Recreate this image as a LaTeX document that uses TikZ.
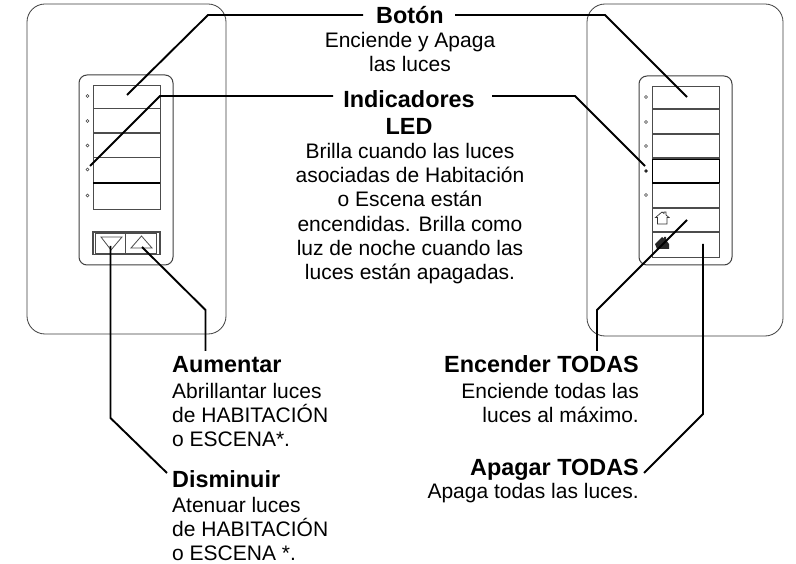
\documentclass[tikz,border=0pt]{standalone}
\usepackage{fontspec}
\setmainfont{Liberation Sans}
\tikzset{
  plate/.style={draw=black!75,line width=0.8pt,rounded corners=18pt,fill=white},
  panel/.style={draw=black!75,line width=1pt,rounded corners=8pt,fill=white},
  sep/.style={draw=black!70,line width=1.5pt},
  thicksep/.style={draw=black,line width=2pt},
  btn/.style={draw=black!70,line width=0.8pt},
  led/.style={circle,draw=black!75,line width=0.6pt,minimum size=3pt,inner sep=0pt},
  leader/.style={draw=black,line width=1.9pt,line join=miter},
  ttl/.style={font=\fontsize{23.4}{27}\selectfont\bfseries,inner sep=0pt},
  txt/.style={font=\fontsize{21}{24.2}\selectfont,inner sep=0pt,align=left},
  ctxt/.style={font=\fontsize{21}{24.2}\selectfont,inner sep=0pt,align=center},
  rtxt/.style={font=\fontsize{21}{24.2}\selectfont,inner sep=0pt,align=right}
}
\begin{document}
\begin{tikzpicture}[x=1pt,y=-1pt,every node/.append style={text=black}]
\useasboundingbox (0,0) rectangle (796,564);
\fill[white] (0,0) rectangle (796,564);
% left plate
\draw[plate] (27,4) rectangle (226,334);
\draw[panel] (79,75) rectangle (173,265);
\draw[btn] (93,85) rectangle (160,209);
\foreach \y in {108.5,133,157.5}{\draw[sep] (93,\y) -- (160,\y);}
\draw[thicksep] (93,183) -- (160,183);
\foreach \y in {96,121,145.5,169.5,195.5}{\node[led] at (87.5,\y) {};}
\draw[btn,line width=1.2pt] (93,232) rectangle (160,254.5);
\draw[btn] (95.5,233.5) rectangle (156.5,253);
\draw[btn,line width=1.2pt] (125.5,233) -- (125.5,254);
\draw[btn] (101,237) -- (122,237) -- (111,250) -- cycle;
\draw[btn] (131,248) -- (152,248) -- (141.5,236) -- cycle;
% right plate
\draw[plate] (587,4) rectangle (783,336);
\draw[panel] (639,76) rectangle (732,265);
\draw[btn] (652,86) rectangle (719,257);
\foreach \y in {109,134,158,208,232}{\draw[sep] (652,\y) -- (719,\y);}
\draw[draw=black,line width=1pt] (652,159.5) rectangle (719,183);
\draw[thicksep] (652,183) -- (719,183);
\foreach \y in {97,122,146,195}{\node[led] at (646,\y) {};}
\node[led,fill=black] at (646,171) {};
\draw[line width=0.7pt,draw=black!80] (655.5,217.5) -- (662,212) -- (664,213.5) -- (664,212) -- (666,212) -- (666,215) -- (669,217.5) -- (667,217.5) -- (667,224) -- (657.5,224) -- (657.5,217.5) -- cycle;
\fill[black!85] (655,244) -- (662,237) -- (664,238.5) -- (664,237) -- (666,237) -- (666,240) -- (669,244) -- (669,249) -- (657,249) -- cycle;
% texts
\node[ttl,anchor=base] (boton) at (410,24) {Botón};
\node[ctxt,anchor=north] (botontxt) at (410,32) {Enciende y Apaga\\las luces};
\node[ttl,align=center,font=\fontsize{23.4}{27}\selectfont\bfseries,anchor=north] (indic) at (409,90) {Indicadores\\LED};
\node[ctxt,anchor=north] (indictxt) at (410,143) {Brilla cuando las luces\\asociadas de Habitación\\o Escena están\\encendidas. Brilla como\\luz de noche cuando las\\luces están apagadas.};
\node[ttl,anchor=base west] (aum) at (172,373) {Aumentar};
\node[txt,anchor=north west] (aumtxt) at (172,383) {Abrillantar luces\\de HABITACIÓN\\o ESCENA*.};
\node[ttl,anchor=base west] (dis) at (172,487) {Disminuir};
\node[txt,anchor=north west] (distxt) at (172,497) {Atenuar luces\\de HABITACIÓN\\o ESCENA *.};
\node[ttl,anchor=base east] (enc) at (639,373) {Encender TODAS};
\node[rtxt,anchor=north east] (enctxt) at (639,383) {Enciende todas las\\luces al máximo.};
\node[ttl,anchor=base east] (apa) at (639,475) {Apagar TODAS};
\node[rtxt,anchor=north east] (apatxt) at (639,483) {Apaga todas las luces.};
% named leader ends
\coordinate (b1) at (127,95);
\coordinate (b2) at (687,97);
\coordinate (bl) at (363,15);
\coordinate (br) at (455,15);
\coordinate (il) at (333,96);
\coordinate (ir) at (492,96);
\coordinate (l1) at (90,166);
\coordinate (l2) at (645,166);
\coordinate (up) at (142,247);
\coordinate (dn) at (110.5,246);
\coordinate (ea) at (687,220);
\coordinate (aa) at (703,244);
\coordinate (upe) at (205.5,351);
\coordinate (dne) at (167,473);
\coordinate (eae) at (597,351);
\coordinate (aae) at (644,473);
\draw[leader] (b1) -- (208,15) -- (bl);
\draw[leader] (br) -- (605,15) -- (b2);
\draw[leader] (l1) -- (160,96) -- (il);
\draw[leader] (ir) -- (575,96) -- (l2);
\draw[leader] (up) -- (205.5,310) -- (upe);
\draw[leader] (dn) -- (110.5,418) -- (dne);
\draw[leader] (ea) -- (597,310) -- (eae);
\draw[leader] (aa) -- (703,414) -- (aae);
\end{tikzpicture}
\end{document}
